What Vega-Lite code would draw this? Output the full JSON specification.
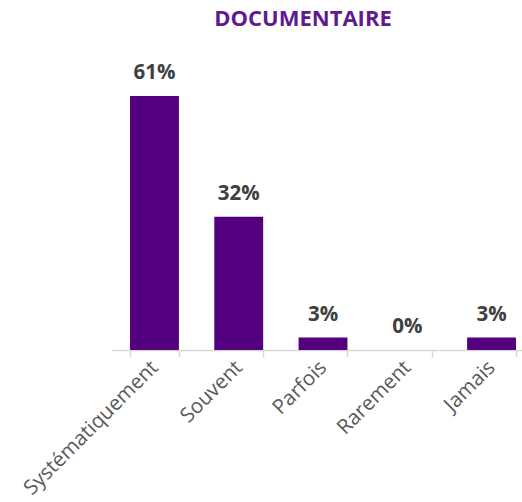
{
  "$schema": "https://vega.github.io/schema/vega-lite/v6.json",
  "autosize": "none",
  "padding": {"left": 112, "top": 58.5, "right": 0, "bottom": 152},
  "width": 422,
  "height": 291.5,
  "background": "white",
  "config": {"view": {"stroke": null}},
  "title": {
    "text": "DOCUMENTAIRE",
    "font": "Open Sans",
    "fontSize": 22,
    "fontWeight": "bold",
    "color": "#5E1A8E",
    "anchor": "middle",
    "baseline": "alphabetic",
    "offset": 11,
    "dx": -20
  },
  "data": {
    "values": [
      {"cat": "Systématiquement", "v": 0.61},
      {"cat": "Souvent", "v": 0.32},
      {"cat": "Parfois", "v": 0.03},
      {"cat": "Rarement", "v": 0.0},
      {"cat": "Jamais", "v": 0.03}
    ]
  },
  "encoding": {
    "x": {
      "field": "cat",
      "type": "nominal",
      "sort": null,
      "title": null,
      "scale": {"paddingInner": 0.42, "paddingOuter": 0.214},
      "axis": {
        "labelAngle": -45,
        "labelAlign": "right",
        "labelBaseline": "middle",
        "labelFont": "Open Sans",
        "labelFontSize": 20.5,
        "labelColor": "#595959",
        "labelPadding": 7,
        "domainColor": "#D9D9D9",
        "domainWidth": 1.5,
        "tickColor": "#D9D9D9",
        "tickWidth": 1.5,
        "tickSize": 7,
        "tickBand": "extent"
      }
    },
    "y": {
      "field": "v",
      "type": "quantitative",
      "scale": {"domain": [0, 0.7]},
      "axis": null
    }
  },
  "layer": [
    {"mark": {"type": "bar", "color": "#52007D"}},
    {
      "mark": {
        "type": "text",
        "font": "Open Sans",
        "fontSize": 20.5,
        "fontWeight": "bold",
        "color": "#404040",
        "baseline": "alphabetic",
        "dy": -17
      },
      "encoding": {"text": {"field": "v", "type": "quantitative", "format": ".0%"}}
    }
  ]
}
